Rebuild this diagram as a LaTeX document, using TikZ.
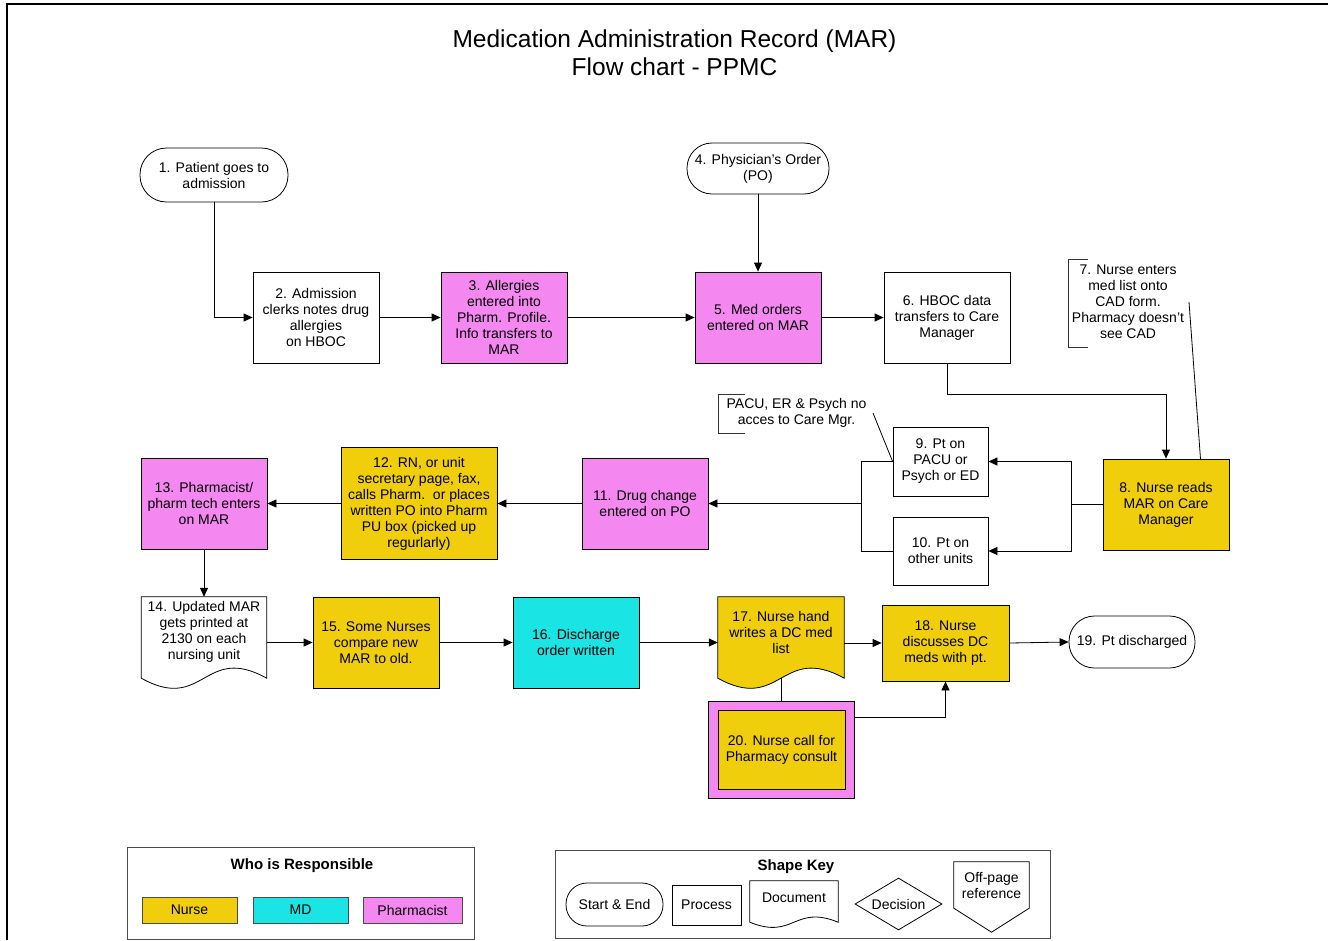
\documentclass[tikz,border=0pt]{standalone}
\usepackage{fontspec}
\setmainfont{Liberation Sans}
\usetikzlibrary{arrows.meta,shapes.geometric,calc,backgrounds}
\definecolor{nurse}{RGB}{240,206,12}
\definecolor{pharm}{RGB}{245,135,240}
\definecolor{mdc}{RGB}{26,228,228}
\begin{document}
\begin{tikzpicture}[x=1pt,y=-1pt,
  every node/.style={font=\fontsize{14}{16}\selectfont, align=center, inner sep=0pt},
  box/.style={draw, line width=0.8pt, minimum width=126pt, minimum height=91pt},
  term/.style={draw, line width=0.8pt},
  ln/.style={draw, line width=0.8pt},
  arr/.style={draw, line width=0.8pt, -{Triangle[length=9pt,width=8pt]}},
  brk/.style={draw=black!80, line width=0.8pt},
  leg/.style={draw=black!70, line width=1pt, minimum width=95pt, minimum height=26pt},
  ttl/.style={font=\fontsize{24.5}{28}\selectfont},
  hd/.style={font=\bfseries\fontsize{15}{18}\selectfont}]
\useasboundingbox (0,0) rectangle (1328,940);
% frame
\draw[line width=2pt] (7,940) -- (7,4) -- (1328,4);
% title
\node[ttl] (title) at (674.5,53) {Medication Administration Record (MAR)\\Flow chart - PPMC};
% row 1
\node[term, rounded corners=26.5pt, minimum width=148pt, minimum height=54pt] (n1) at (214,175) {1. Patient goes to\\admission};
\node[box] (n2) at (316,317.5) {2. Admission\\clerks notes drug\\allergies\\ on HBOC};
\node[box, fill=pharm] (n3) at (504,317.5) {3. Allergies\\entered into\\Pharm. Profile.\\Info transfers to\\MAR};
\node[term, rounded corners=25pt, minimum width=142pt, minimum height=51pt] (n4) at (758,168.5) {4. Physician's Order\\(PO)};
\node[box, fill=pharm] (n5) at (758,317.5) {5. Med orders\\entered on MAR};
\node[box] (n6) at (947,317.5) {6. HBOC data\\transfers to Care\\Manager};
\node (n7) at (1128,302) {7. Nurse enters\\med list onto\\CAD form.\\Pharmacy doesn't\\see CAD};
% row 2
\node[box, fill=nurse] (n8) at (1166,504.5) {8. Nurse reads\\MAR on Care\\Manager};
\node[box, minimum width=95pt, minimum height=69pt] (n9) at (940.5,461.5) {9. Pt on\\PACU or\\Psych or ED};
\node[box, minimum width=95pt, minimum height=68pt] (n10) at (940.5,551) {10. Pt on\\other units};
\node (npacu) at (796.5,412.5) {PACU, ER \& Psych no\\acces to Care Mgr.};
\node[box, fill=pharm] (n11) at (645,503.5) {11. Drug change\\entered on PO};
\node[box, fill=nurse, minimum width=156pt, minimum height=112pt] (n12) at (419,503.5) {12. RN, or unit\\secretary page, fax,\\calls Pharm.\ \ or places\\written PO into Pharm\\PU box (picked up\\regurlarly)};
\node[box, fill=pharm] (n13) at (204,503.5) {13. Pharmacist/\\pharm tech enters\\on MAR};
% row 3
\node[minimum width=125pt, minimum height=70pt] (n14) at (204,632) {14. Updated MAR\\gets printed at\\2130 on each\\nursing unit};
\node[box, fill=nurse] (n15) at (376,642.5) {15. Some Nurses\\compare new\\MAR to old.};
\node[box, fill=mdc] (n16) at (576,642.5) {16. Discharge\\order written};
\node[minimum width=126pt, minimum height=70pt] (n17) at (781,632) {17. Nurse hand\\writes a DC med\\list};
\node[box, fill=nurse, minimum width=127pt, minimum height=76pt] (n18) at (945.5,643) {18. Nurse\\discusses DC\\meds with pt.};
\node[term, rounded corners=25.5pt, minimum width=126pt, minimum height=52pt] (n19) at (1132,642) {19. Pt discharged};
\node[draw, line width=0.8pt, fill=pharm, minimum width=146pt, minimum height=97pt] (n20) at (781,749.5) {};
\node[box, fill=nurse, minimum width=127pt, minimum height=79pt] (n20i) at (781.5,750) {20. Nurse call for\\Pharmacy consult};
% legend: who is responsible
\node[draw=black!70, line width=1pt, minimum width=347pt, minimum height=92pt] (lg) at (300.5,893) {};
\node[hd] (lgt) at (302,866) {Who is Responsible};
\node[leg, fill=nurse] (lgn) at (189.5,910) {Nurse};
\node[leg, fill=mdc] (lgm) at (300.5,910) {MD};
\node[leg, fill=pharm, minimum width=99pt] (lgp) at (412.5,910) {Pharmacist};
% shape key
\node[draw=black!70, line width=1pt, minimum width=495pt, minimum height=88pt] (ky) at (802.5,894) {};
\node[hd] (kyt) at (796,867) {Shape Key};
\node[term, rounded corners=21pt, minimum width=97pt, minimum height=43pt] (kst) at (614.5,904.5) {Start \& End};
\node[box, minimum width=69pt, minimum height=40pt] (kpr) at (706.5,905) {Process};
\node[minimum width=88pt, minimum height=33pt] (kdc) at (794,897.5) {Document};
\node[draw, line width=0.8pt, diamond, aspect=1.67, minimum width=87pt, minimum height=52pt] (kde) at (898.5,904) {Decision};
\node[minimum width=75pt, minimum height=46pt] (kop) at (991.5,885) {Off-page\\reference};
% document-like shapes on background
\begin{pgfonlayer}{background}
\draw[line width=0.8pt, fill=white] (n14.north west) -- (n14.north east) -- ($(n14.south east)+(0,11)$) .. controls ($(n14.south)+(0,-24)$) and ($(n14.south)+(0,46)$) .. ($(n14.south west)+(0,11)$) -- cycle;
\draw[line width=0.8pt, fill=nurse] (n17.north west) -- (n17.north east) -- ($(n17.south east)+(0,11)$) .. controls ($(n17.south)+(0,-24)$) and ($(n17.south)+(0,46)$) .. ($(n17.south west)+(0,11)$) -- cycle;
\draw[line width=0.8pt, fill=white] (kdc.north west) -- (kdc.north east) -- ($(kdc.south east)+(0,8)$) .. controls ($(kdc.south)+(0,-10)$) and ($(kdc.south)+(0,26)$) .. ($(kdc.south west)+(0,8)$) -- cycle;
\draw[line width=0.8pt, fill=white] (kop.north west) -- (kop.north east) -- (kop.south east) -- ($(kop.south)+(0,24)$) -- (kop.south west) -- cycle;
\end{pgfonlayer}
% annotation brackets and leaders
\draw[brk] (1088,259) -| (1068,347) -- (1088,347);
\draw[brk] (745,394) -| (718,433) -- (745,433);
\coordinate (c7) at (1189,302);
\coordinate (c8) at (1200.5,459);
\draw[ln] (c7) -- (c8);
\coordinate (cp) at (873,413);
\draw[ln] (cp) -- (n9.west);
% connectors
\draw[arr] (n1.south) |- (n2.west);
\draw[arr] (n2.east) -- (n3.west);
\draw[arr] (n3.east) -- (n5.west);
\draw[arr] (n4.south) -- (n5.north);
\draw[arr] (n5.east) -- (n6.west);
\draw[arr] (n6.south) -- ++(0,31) -| (n8.north);
\coordinate (j1) at (1071,504.5);
\draw[ln] (n8.west) -- (j1);
\draw[arr] (j1) |- (n9.east);
\draw[arr] (j1) |- (n10.east);
\coordinate (j2) at (861,503.5);
\draw[ln] (n9.west) -| (j2);
\draw[ln] (n10.west) -| (j2);
\draw[arr] (j2) -- (n11.east);
\draw[arr] (n11.west) -- (n12.east);
\draw[arr] (n12.west) -- (n13.east);
\draw[arr] (n13.south) -- (n14.north);
\draw[arr] (n14.east |- n15.west) -- (n15.west);
\draw[arr] (n15.east) -- (n16.west);
\draw[arr] (n16.east) -- (n17.west |- n16.east);
\draw[arr] (n17.east |- n18.west) -- (n18.west);
\draw[arr] (n18.east) -- (n19.west);
\draw[ln, shorten <=11pt] (n17.south) -- (n20.north);
\draw[arr] ($(n20.north east)+(0,17)$) -| (n18.south);
\end{tikzpicture}
\end{document}
